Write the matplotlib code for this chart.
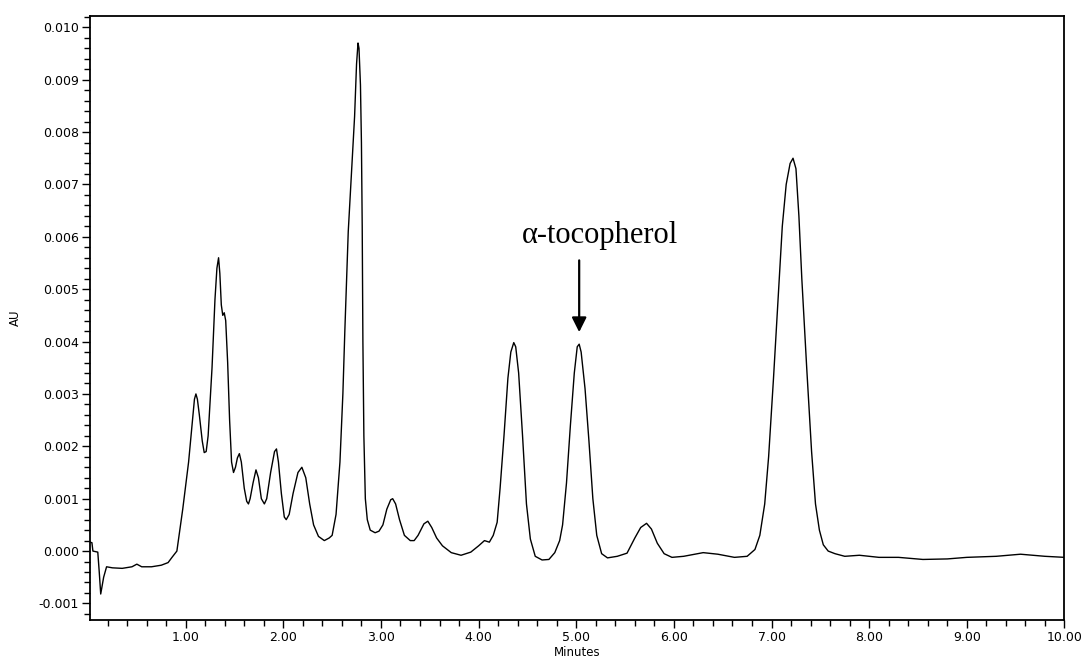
# plot.py
# Chromatogram trace (AU vs. minutes) with the alpha-tocopherol peak marked.
import matplotlib
matplotlib.use("Agg")
import matplotlib.pyplot as plt
from matplotlib.ticker import MultipleLocator, FormatStrFormatter

# -----------------------------------------------------------------------------
# Data
# -----------------------------------------------------------------------------
time_min = [
    # solvent front + baseline
    0.02, 0.04, 0.05, 0.10, 0.115, 0.13, 0.16, 0.19, 0.25, 0.35, 0.45, 0.50,
    0.55, 0.65, 0.75, 0.82, 0.86, 0.91, 0.97, 1.03,
    # early cluster
    1.07, 1.09, 1.105, 1.12, 1.14, 1.17, 1.19, 1.21, 1.23, 1.27, 1.30, 1.32,
    1.337, 1.35, 1.365, 1.38, 1.395, 1.41, 1.43, 1.45, 1.47, 1.49, 1.51, 1.53,
    1.55, 1.57, 1.60, 1.625, 1.643, 1.66, 1.69, 1.72, 1.745, 1.775, 1.806,
    1.83, 1.87, 1.91, 1.93, 1.95, 1.98, 2.01, 2.03, 2.06, 2.10, 2.15, 2.19,
    2.23, 2.27, 2.31, 2.36, 2.42, 2.47,
    # tallest peak
    2.50, 2.54, 2.58, 2.61, 2.63, 2.665, 2.70, 2.73, 2.75, 2.765, 2.775, 2.79,
    2.80, 2.808, 2.815, 2.825, 2.84, 2.86, 2.89, 2.94, 2.98,
    # small bumps
    3.02, 3.06, 3.10, 3.12, 3.15, 3.19, 3.24, 3.30, 3.34, 3.38, 3.44, 3.48,
    3.52, 3.57, 3.63, 3.72, 3.82, 3.92, 4.00, 4.06, 4.11, 4.15,
    # twin peaks (4.4 and alpha-tocopherol)
    4.19, 4.22, 4.26, 4.30, 4.33, 4.36, 4.38, 4.41, 4.45, 4.49, 4.53, 4.58,
    4.65, 4.72, 4.78, 4.83, 4.86, 4.90, 4.94, 4.98, 5.01, 5.03, 5.05, 5.09,
    5.13, 5.17, 5.21, 5.26, 5.32, 5.42, 5.52, 5.60, 5.66, 5.72, 5.77, 5.83,
    5.90, 5.98, 6.10, 6.30, 6.45, 6.62, 6.75,
    # late peak
    6.83, 6.88, 6.93, 6.97, 7.02, 7.07, 7.11, 7.15, 7.19, 7.22, 7.25, 7.28,
    7.31, 7.36, 7.41, 7.45, 7.49, 7.53, 7.58, 7.65,
    # tail
    7.75, 7.90, 8.10, 8.30, 8.55, 8.80, 9.00, 9.30, 9.55, 9.80, 10.00,
]
absorbance = [
    0.00017, 0.00016, 0.0, -0.00002, -0.0004, -0.00082, -0.0005, -0.0003,
    -0.00032, -0.00033, -0.0003, -0.00025, -0.0003, -0.0003, -0.00027,
    -0.00022, -0.00012, 0.0, 0.0008, 0.0017,
    0.0025, 0.0029, 0.0030, 0.0029, 0.0026, 0.0021, 0.00188, 0.0019, 0.0022,
    0.0035, 0.0048, 0.0054, 0.0056, 0.0053, 0.0047, 0.0045, 0.00455, 0.0044,
    0.0036, 0.0025, 0.0017, 0.0015, 0.0016, 0.00178, 0.00186, 0.0017, 0.0012,
    0.00095, 0.0009, 0.0010, 0.0013, 0.00155, 0.0014, 0.0010, 0.0009, 0.0010,
    0.0015, 0.0019, 0.00195, 0.0017, 0.0011, 0.00065, 0.0006, 0.0007, 0.0011,
    0.0015, 0.0016, 0.0014, 0.0009, 0.0005, 0.00028, 0.0002, 0.00025,
    0.0003, 0.0007, 0.0017, 0.0030, 0.0042, 0.0061, 0.0073, 0.0083, 0.0093,
    0.0097, 0.0096, 0.0089, 0.0078, 0.0062, 0.0040, 0.0022, 0.0010, 0.0006,
    0.0004, 0.00035, 0.00038,
    0.0005, 0.0008, 0.00098, 0.0010, 0.0009, 0.0006, 0.0003, 0.0002, 0.0002,
    0.0003, 0.00052, 0.00057, 0.00045, 0.00025, 0.0001, -0.00003, -0.00008,
    -0.00002, 0.0001, 0.0002, 0.00017, 0.0003,
    0.00055, 0.0012, 0.0022, 0.0033, 0.0038, 0.00398, 0.0039, 0.0034, 0.0022,
    0.0009, 0.00023, -0.0001, -0.00017, -0.00016, -0.00003, 0.0002, 0.0005,
    0.0013, 0.0024, 0.0034, 0.0039, 0.00395, 0.0038, 0.0031, 0.0021, 0.0010,
    0.0003, -0.00005, -0.00013, -0.0001, -0.00004, 0.00025, 0.00045, 0.00053,
    0.00042, 0.00015, -0.00005, -0.00012, -0.0001, -0.00003, -0.00006,
    -0.00012, -0.0001,
    0.00003, 0.0003, 0.0009, 0.0018, 0.0033, 0.0049, 0.0062, 0.0070, 0.0074,
    0.0075, 0.0073, 0.0064, 0.0052, 0.0035, 0.0019, 0.0009, 0.0004, 0.00012,
    0.0, -0.00005,
    -0.0001, -0.00008, -0.00012, -0.00012, -0.00016, -0.00015, -0.00012,
    -0.0001, -0.00006, -0.0001, -0.00012,
]

peak_label = "α-tocopherol"
peak_time = 5.03
x_tick_values = [1, 2, 3, 4, 5, 6, 7, 8, 9, 10]

# -----------------------------------------------------------------------------
# Figure
# -----------------------------------------------------------------------------
fig = plt.figure(figsize=(10.84, 6.57), dpi=100)
ax = fig.add_axes([0.083, 0.056, 0.899, 0.920])

ax.plot(time_min, absorbance, color="black", lw=1.0)

ax.set_xlim(0.02, 10.0)
ax.set_ylim(-0.00132, 0.01022)

ax.set_xticks(x_tick_values)
ax.xaxis.set_major_formatter(FormatStrFormatter("%.2f"))
ax.xaxis.set_minor_locator(MultipleLocator(0.2))
ax.yaxis.set_major_locator(MultipleLocator(0.001))
ax.yaxis.set_major_formatter(FormatStrFormatter("%.3f"))
ax.yaxis.set_minor_locator(MultipleLocator(0.0002))

ax.tick_params(which="both", direction="out", top=False, right=False,
               color="black", width=1.0)
ax.tick_params(which="major", length=6, labelsize=9, pad=2)
ax.tick_params(which="minor", length=4)
for sp in ax.spines.values():
    sp.set_linewidth(1.3)

# "Minutes" sits right at the bottom edge, as in the scan
ax.set_xlabel("Minutes", fontsize=8.5, labelpad=1)
ax.set_ylabel("AU", fontsize=8.5, labelpad=12)

# peak annotation
ax.annotate("", xy=(peak_time, 0.00418), xytext=(peak_time, 0.00555),
            arrowprops=dict(arrowstyle="-|>", color="black", lw=1.6,
                            mutation_scale=22, shrinkA=0, shrinkB=0))
ax.text(peak_time + 0.21, 0.00602, peak_label, ha="center", va="center",
        fontsize=22, family=["Liberation Serif", "DejaVu Serif"])

fig.savefig("out.png", dpi=100)
